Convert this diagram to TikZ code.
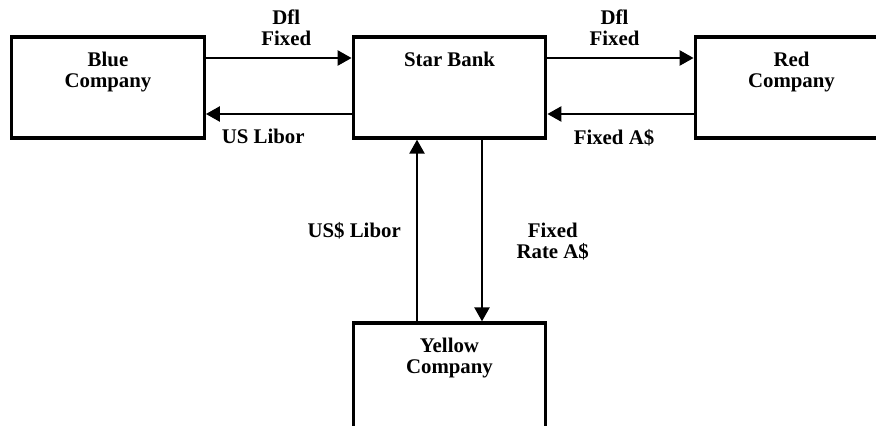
\documentclass[tikz,border=0pt]{standalone}
\usepackage{fontspec}
\setmainfont{Liberation Serif}
\usetikzlibrary{arrows.meta}

\begin{document}
\begin{tikzpicture}[x=0.6pt,y=-0.6pt,
    party/.style={draw,line width=2pt,minimum width=115.5pt,minimum height=60.6pt,inner sep=0pt},
    flow/.style={line width=1.5pt,-{Triangle[length=8.4pt,width=9pt]}},
    tag/.style={font=\bfseries\fontsize{12.5}{13}\selectfont,align=center,inner sep=2pt}]
  \useasboundingbox (0,0) rectangle (876,425);

  % Boxes for the parties
  \node[party] (blue) at (108,87.5) {};
  \node[party] (star) at (449.5,87.5) {};
  \node[party] (red) at (791.5,87.5) {};
  \node[party,minimum height=66pt] (yellow) at (449.5,378) {};

  % Box titles
  \node[tag,anchor=north] (bluetitle) at ([yshift=-7.6pt]blue.north) {Blue\\Company};
  \node[tag,anchor=north] (startitle) at ([yshift=-7.6pt]star.north) {Star Bank};
  \node[tag,anchor=north] (redtitle) at ([yshift=-7.6pt]red.north) {Red\\Company};
  \node[tag,anchor=north] (yellowtitle) at ([yshift=-7.6pt]yellow.north) {Yellow\\Company};

  % Payments between Blue and Star Bank
  \draw[flow] ([yshift=17.7pt]blue.east) -- ([yshift=17.7pt]star.west)
    node[tag,midway,above=4.5pt,xshift=4.5pt] (dflblue) {Dfl\\Fixed};
  \draw[flow] ([yshift=-15.9pt]star.west) -- ([yshift=-15.9pt]blue.east)
    node[tag,midway,below=6.4pt,xshift=-9.3pt] (liborblue) {US Libor};

  % Payments between Star Bank and Red
  \draw[flow] ([yshift=17.7pt]star.east) -- ([yshift=17.7pt]red.west)
    node[tag,midway,above=4.5pt,xshift=-3.6pt] (dflred) {Dfl\\Fixed};
  \draw[flow] ([yshift=-15.9pt]red.west) -- ([yshift=-15.9pt]star.east)
    node[tag,midway,below=6.4pt,xshift=-3.9pt] (fixedred) {Fixed A\$};

  % Payments between Star Bank and Yellow
  \draw[flow] ([xshift=-19.5pt]yellow.north) -- ([xshift=-19.5pt]star.south)
    node[tag,midway,left=7pt] (liboryellow) {US\$ Libor};
  \draw[flow] ([xshift=19.5pt]star.south) -- ([xshift=19.5pt]yellow.north)
    node[tag,midway,right=18pt,yshift=-6.6pt] (fixedyellow) {Fixed\\Rate A\$};
\end{tikzpicture}
\end{document}
